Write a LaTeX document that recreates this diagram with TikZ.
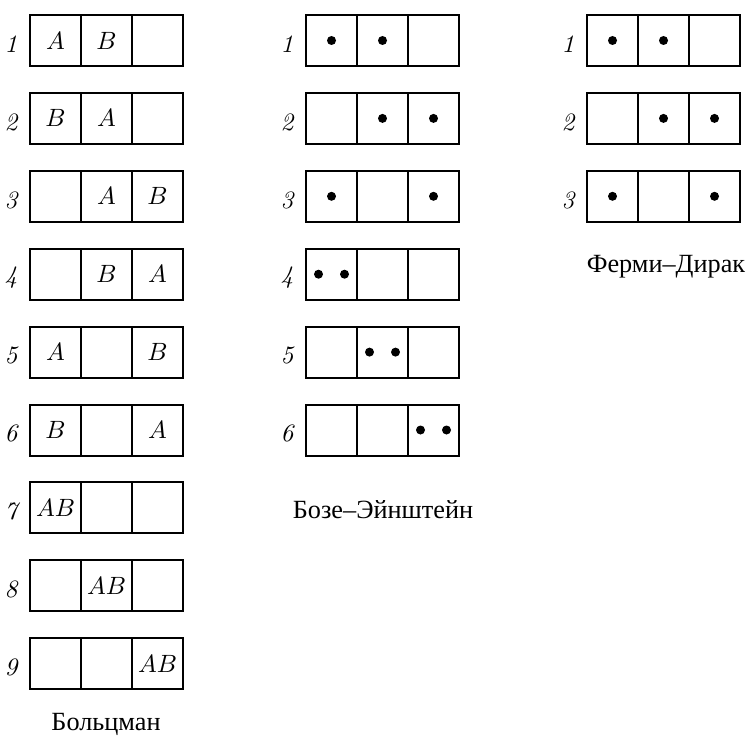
\documentclass[tikz,border=0pt]{standalone}
\usepackage{fontspec}
\newfontfamily\cyrfont{Liberation Serif}
\usepackage{tikz}
\usetikzlibrary{positioning}

\tikzset{
  cell/.style={draw, line width=0.8pt, minimum width=20.4pt, minimum height=20.4pt, inner sep=0pt, outer sep=0pt},
  rownum/.style={font=\itshape, yshift=-1.5pt},
  ball/.style={fill=black},
  caption/.style={font=\cyrfont\fontsize{10.5}{12}\selectfont, anchor=base}
}

\begin{document}
\begin{tikzpicture}[x=0.4pt, y=-0.4pt]
  \useasboundingbox (0,0) rectangle (750,739);

  % Boltzmann: two distinguishable particles
  \foreach \r/\p/\q/\s in {1/A/B/, 2/B/A/, 3//A/B, 4//B/A, 5/A//B, 6/B//A, 7/AB//, 8//AB/, 9///AB} {
    \node[cell] (bo\r-1) at (55.5, {40.5+77.9*(\r-1)}) {$\p$};
    \node[cell, right=0pt of bo\r-1] (bo\r-2) {$\q$};
    \node[cell, right=0pt of bo\r-2] (bo\r-3) {$\s$};
    \node[rownum, left=1.5pt of bo\r-1] (bon\r) {\r};
  }

  % Bose--Einstein
  \foreach \r in {1,...,6} {
    \node[cell] (be\r-1) at (331.5, {40.5+77.9*(\r-1)}) {};
    \node[cell, right=0pt of be\r-1] (be\r-2) {};
    \node[cell, right=0pt of be\r-2] (be\r-3) {};
    \node[rownum, left=1.5pt of be\r-1] (ben\r) {\r};
  }
  \foreach \r/\k/\dx in {1/1/0, 1/2/0, 2/2/0, 2/3/0, 3/1/0, 3/3/0,
                         4/1/-13, 4/1/13, 5/2/-13, 5/2/13, 6/3/-13, 6/3/13}
    \fill[ball] ([xshift={\dx*0.4pt}]be\r-\k.center) circle (1.8pt);

  % Fermi--Dirac
  \foreach \r in {1,2,3} {
    \node[cell] (fd\r-1) at (612.5, {40.5+77.9*(\r-1)}) {};
    \node[cell, right=0pt of fd\r-1] (fd\r-2) {};
    \node[cell, right=0pt of fd\r-2] (fd\r-3) {};
    \node[rownum, left=1.5pt of fd\r-1] (fdn\r) {\r};
  }
  \foreach \r/\k in {1/1, 1/2, 2/2, 2/3, 3/1, 3/3}
    \fill[ball] (fd\r-\k.center) circle (1.8pt);

  % captions
  \node[caption] (bolabel) at (106, 730) {Больцман};
  \node[caption] (belabel) at (383, 518) {Бозе–Эйнштейн};
  \node[caption] (fdlabel) at (666, 272) {Ферми–Дирак};
\end{tikzpicture}
\end{document}
